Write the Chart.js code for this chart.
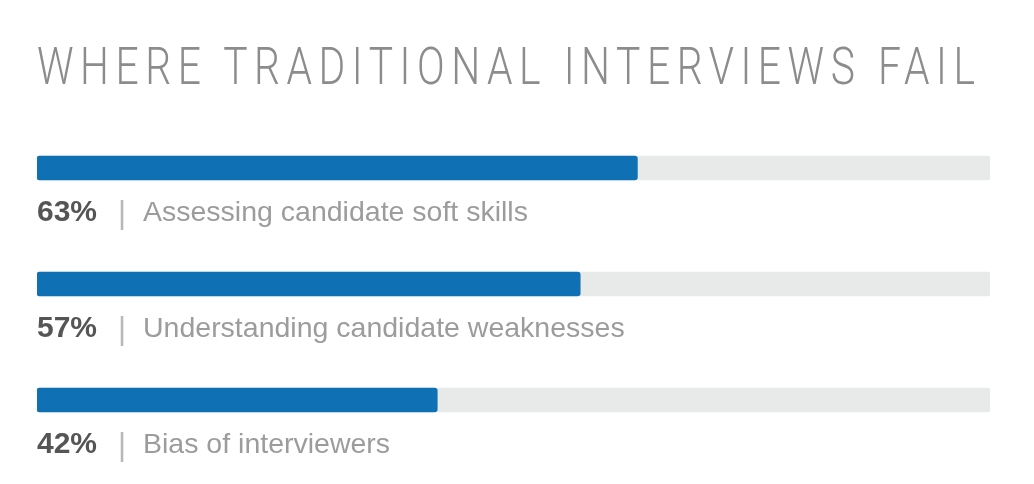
<!DOCTYPE html>
<html lang="en">
<head>
    <meta charset="UTF-8">
    <title>Where Traditional Interviews Fail</title>
    <script src="https://cdn.jsdelivr.net/npm/chart.js"></script>
    <style>
        html, body { margin: 0; padding: 0; background: #fff; }
        #wrap { position: relative; width: 1034px; height: 484px; overflow: hidden; }
        #title {
            position: absolute; left: 37px; top: 42px; margin: 0;
            font-family: Roboto, sans-serif; font-weight: 300; font-size: 51px;
            line-height: 50px; color: #8c8c8c; white-space: nowrap;
        }
        #title span { display: inline-block; transform-origin: left center; }
    </style>
</head>
<body>
<div id="wrap">
    <h1 id="title"><span id="titleText">WHERE TRADITIONAL INTERVIEWS FAIL</span></h1>
    <canvas id="barChart" width="1034" height="484"></canvas>
</div>

<script>
    const categories = ['Assessing candidate soft skills', 'Understanding candidate weaknesses', 'Bias of interviewers'];
    const percentages = [63, 57, 42];
    const trackMax = [100, 100, 100];

    // narrow, widely spaced title across the same width as the bars
    const squeeze = 0.8;
    const titleSpan = document.getElementById('titleText');
    const titleText = titleSpan.textContent;
    const rawWidth = titleSpan.getBoundingClientRect().width;
    const spacing = (938 / squeeze - rawWidth) / (titleText.length - 1);
    titleSpan.style.letterSpacing = spacing + 'px';
    titleSpan.style.transform = 'scaleX(' + squeeze + ')';

    const labelPlugin = {
        id: 'barLabels',
        afterDatasetsDraw(chart) {
            const ctx = chart.ctx;
            const meta = chart.getDatasetMeta(0);
            const left = chart.chartArea.left;
            ctx.save();
            ctx.textBaseline = 'alphabetic';
            ctx.textAlign = 'left';
            meta.data.forEach((bar, i) => {
                const y = bar.y + 53;
                ctx.font = 'bold 30px "Liberation Sans", Arial, sans-serif';
                ctx.fillStyle = '#555555';
                ctx.fillText(percentages[i] + '%', left, y);
                ctx.font = '31px "Liberation Sans", Arial, sans-serif';
                ctx.fillStyle = '#b8b8b8';
                ctx.fillText('|', left + 81, y + 2);
                ctx.font = '28.5px "Liberation Sans", Arial, sans-serif';
                ctx.fillStyle = '#9c9c9c';
                ctx.fillText(categories[i], left + 106, y);
            });
            ctx.restore();
        }
    };

    new Chart(document.getElementById('barChart').getContext('2d'), {
        type: 'bar',
        data: {
            labels: categories,
            datasets: [
                {
                    label: 'Share',
                    data: percentages,
                    backgroundColor: '#1070b4',
                    borderRadius: 3,
                    borderSkipped: false,
                    barThickness: 24,
                    order: 0
                },
                {
                    label: 'Track',
                    data: trackMax,
                    backgroundColor: '#e8e9e9',
                    borderRadius: 3,
                    borderSkipped: false,
                    barThickness: 24,
                    order: 1
                }
            ]
        },
        options: {
            indexAxis: 'y',
            responsive: false,
            animation: false,
            grouped: false,
            layout: { padding: { left: 37, right: 44, top: 110, bottom: 26 } },
            plugins: {
                legend: { display: false },
                tooltip: { enabled: false },
                title: { display: false }
            },
            scales: {
                x: { min: 0, max: 100, display: false },
                y: { display: false }
            }
        },
        plugins: [labelPlugin]
    });
</script>
</body>
</html>
